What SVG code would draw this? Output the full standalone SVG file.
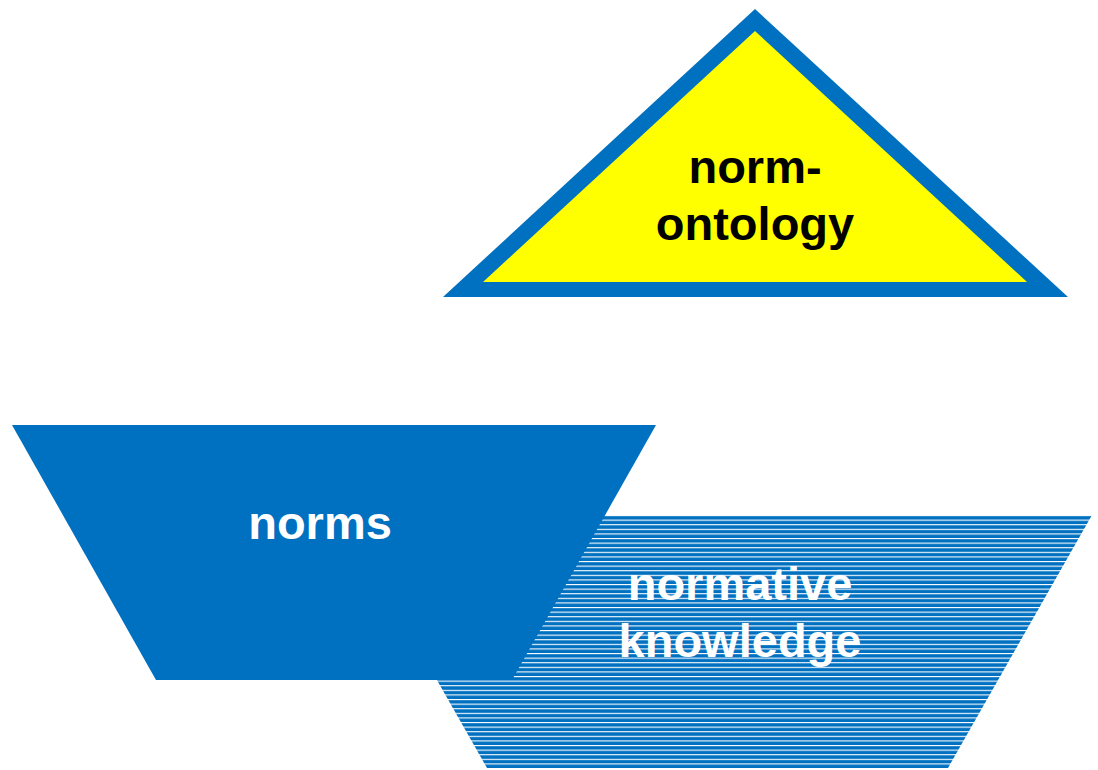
<svg xmlns="http://www.w3.org/2000/svg" width="1098" height="770" viewBox="0 0 1098 770">
<style>
.lbl{font-family:"Liberation Sans",Arial,sans-serif;font-weight:bold;font-size:47px;text-anchor:middle}
.w{fill:#ffffff}
.k{fill:#000000}
</style>
<defs>
<pattern id="hatch" patternUnits="userSpaceOnUse" x="0" y="515" width="1098" height="4.6">
<rect x="0" y="0" width="1098" height="4.6" fill="#0070C0"/>
<rect x="0" y="0" width="1098" height="1.1" fill="#ffffff"/>
</pattern>
</defs>
<rect width="1098" height="770" fill="#ffffff"/>
<g id="normative-knowledge">
<polygon points="343,515 1092,515 948,768 487,768" fill="url(#hatch)"/>
</g>
<g id="norms">
<polygon points="12,425 656,425 512,680 156,680" fill="#0070C0"/>
<text class="lbl w" x="320" y="539">norms</text>
</g>
<g id="normative-knowledge-label">
<text class="lbl w" x="740" y="600">normative</text>
<text class="lbl w" x="740" y="657">knowledge</text>
</g>
<g id="norm-ontology">
<polygon points="755,9 1068,297 443,297" fill="#0070C0"/>
<polygon points="755,31 1027,282 483,282" fill="#FFFF00"/>
<text class="lbl k" x="755" y="183">norm-</text>
<text class="lbl k" x="755" y="240">ontology</text>
</g>
<g id="connectors"></g>
</svg>
